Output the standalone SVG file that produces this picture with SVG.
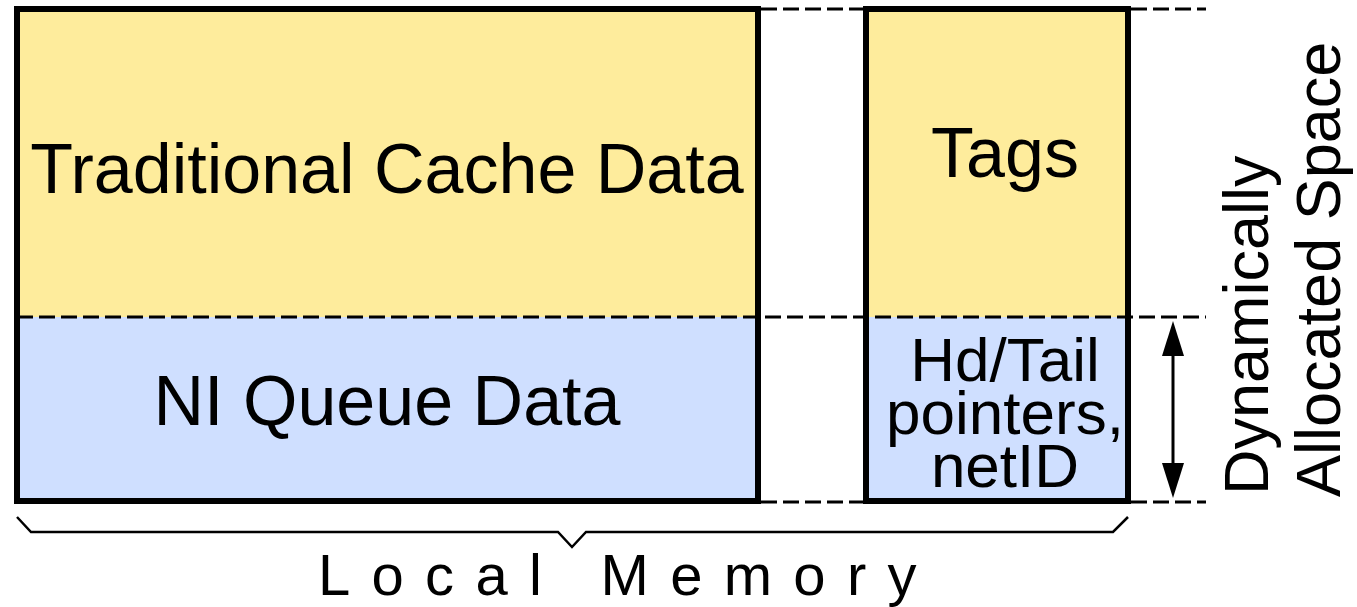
<svg xmlns="http://www.w3.org/2000/svg" width="1357" height="607" viewBox="0 0 1357 607">
  <defs>
    <style>
      .lbl { font-family: "Liberation Sans", Arial, sans-serif; fill: #000; }
      .big { font-size: 70px; text-anchor: middle; }
      .mid { font-size: 62px; text-anchor: middle; }
      .vert { font-size: 63px; text-anchor: start; }
      .cache { fill: #FEEC9C; }
      .queue { fill: #CFDFFF; }
      .frame { fill: none; stroke: #000; stroke-width: 6; }
      .dash { fill: none; stroke: #000; stroke-width: 3; stroke-dasharray: 16 6; }
      .thin { fill: none; stroke: #000; stroke-width: 2.5; }
    </style>
  </defs>

  <rect width="1357" height="607" fill="#fff"/>

  <!-- Data array -->
  <g id="data-array">
    <rect class="cache" x="17" y="9" width="741" height="308"/>
    <rect class="queue" x="17" y="317" width="741" height="184"/>
    <text class="lbl big" x="387" y="193">Traditional Cache Data</text>
    <text class="lbl big" x="387" y="425">NI Queue Data</text>
  </g>

  <!-- Tag array -->
  <g id="tag-array">
    <rect class="cache" x="866" y="9" width="262" height="308"/>
    <rect class="queue" x="866" y="317" width="262" height="184"/>
    <text class="lbl big" x="1005" y="177">Tags</text>
    <text class="lbl mid" x="1005" y="381">Hd/Tail</text>
    <text class="lbl mid" x="1005" y="434">pointers,</text>
    <text class="lbl mid" x="1005" y="487">netID</text>
  </g>

  <!-- Guide lines, range arrow and brace -->
  <g id="connectors">
    <line class="dash" x1="761" y1="9" x2="863" y2="9"/>
    <line class="dash" x1="1131" y1="9" x2="1206" y2="9"/>
    <line class="dash" x1="17" y1="317" x2="1206" y2="317"/>
    <line class="dash" x1="761" y1="502" x2="863" y2="502"/>
    <line class="dash" x1="1131" y1="502" x2="1206" y2="502"/>

    <line x1="1173" y1="345" x2="1173" y2="475" stroke="#000" stroke-width="3"/>
    <polygon points="1173,321 1162,356 1184,356" fill="#000"/>
    <polygon points="1173,498 1162,463 1184,463" fill="#000"/>

    <polyline class="thin" points="17,517 31,532 558,532 572,547 586,532 1113,532 1128,517"/>
  </g>

  <!-- Frames drawn on top of fills -->
  <g id="frames">
    <rect class="frame" x="17" y="9" width="741" height="492"/>
    <rect class="frame" x="866" y="9" width="262" height="492"/>
  </g>

  <g id="local-memory-label">
    <text class="lbl" x="318" y="595" font-size="58" letter-spacing="21.3">Local Memory</text>
  </g>

  <g id="dynamic-space-label">
    <text class="lbl vert" transform="translate(1268,495) rotate(-90)">Dynamically</text>
    <text class="lbl vert" transform="translate(1340,497) rotate(-90)">Allocated Space</text>
  </g>
</svg>
